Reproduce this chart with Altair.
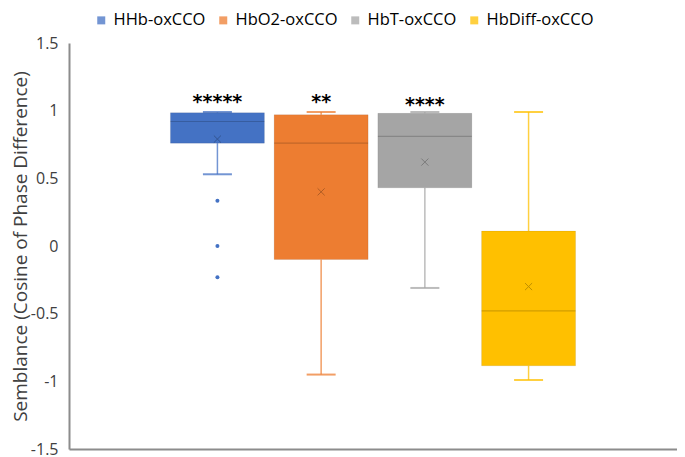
import altair as alt
import pandas as pd

series = ["HHb-oxCCO", "HbO2-oxCCO", "HbT-oxCCO", "HbDiff-oxCCO"]
colors = ["#4472C4", "#ED7D31", "#A5A5A5", "#FFC000"]
whisker_low = [0.53, -0.95, -0.31, -0.99]
q1 = [0.76, -0.10, 0.43, -0.885]
median = [0.92, 0.76, 0.81, -0.48]
q3 = [0.985, 0.97, 0.98, 0.11]
whisker_high = [0.99, 0.99, 0.99, 0.99]
mean = [0.79, 0.40, 0.62, -0.30]

outlier_series = ["HHb-oxCCO", "HHb-oxCCO", "HHb-oxCCO"]
outlier_values = [0.335, 0.0, -0.23]

stars = ["*****", "**", "****"]
star_series = ["HHb-oxCCO", "HbO2-oxCCO", "HbT-oxCCO"]
star_y = [1.09, 1.09, 1.07]

y_ticks = [-1.5, -1.0, -0.5, 0.0, 0.5, 1.0, 1.5]

df = pd.DataFrame({
    "series": series, "lo": whisker_low, "q1": q1, "med": median,
    "q3": q3, "hi": whisker_high, "mean": mean,
})
df_out = pd.DataFrame({"series": outlier_series, "v": outlier_values})
df_star = pd.DataFrame({"series": star_series, "s": stars, "y": star_y})

FONT = "Open Sans"

xenc = alt.X(
    "series:N",
    sort=series,
    scale=alt.Scale(domain=series, paddingInner=0.094, paddingOuter=0.978),
    axis=alt.Axis(labels=False, ticks=False, title=None, domain=True,
                  domainColor="#8c8c8c", domainWidth=2),
)
yscale = alt.Scale(domain=[-1.5, 1.5], nice=False)
yaxis = alt.Axis(
    values=y_ticks, grid=False, ticks=False,
    labelExpr="datum.value + ''",
    labelFontSize=16, labelFont=FONT, labelColor="#404040", labelPadding=11,
    domainColor="#8c8c8c", domainWidth=2,
    title="Semblance (Cosine of Phase Difference)",
    titleFontSize=19, titleFont=FONT, titleFontWeight="normal",
    titleColor="#404040", titlePadding=0,
)
legend = alt.Legend(
    title=None, orient="none", direction="horizontal",
    legendX=24, legendY=-31, symbolType="square", symbolSize=64,
    symbolStrokeWidth=0, labelFontSize=16.5, labelFont=FONT,
    labelColor="#000000", labelOffset=4, columnPadding=9,
)
cenc = alt.Color("series:N", sort=series,
                 scale=alt.Scale(domain=series, range=colors), legend=legend)

base = alt.Chart(df)

whisk_lo = base.mark_rule(strokeWidth=1.5, opacity=0.75).encode(
    x=xenc, y=alt.Y("lo:Q", scale=yscale, axis=yaxis), y2="q1:Q", color=cenc)
whisk_hi = base.mark_rule(strokeWidth=1.5, opacity=0.75).encode(
    x=xenc, y=alt.Y("q3:Q", scale=yscale), y2="hi:Q", color=cenc)
cap_lo = base.mark_tick(size=29, thickness=2, opacity=0.75).encode(
    x=xenc, y=alt.Y("lo:Q", scale=yscale), color=cenc)
cap_hi = base.mark_tick(size=29, thickness=2, opacity=0.75).encode(
    x=xenc, y=alt.Y("hi:Q", scale=yscale), color=cenc)
box = base.mark_bar(opacity=1).encode(
    x=xenc, y=alt.Y("q1:Q", scale=yscale), y2="q3:Q", color=cenc)
box_edge = base.mark_bar(filled=False, stroke="black", strokeWidth=1,
                         strokeOpacity=0.08, fillOpacity=0).encode(
    x=xenc, y=alt.Y("q1:Q", scale=yscale), y2="q3:Q")
med = base.mark_tick(size=94, thickness=1.2, color="black", opacity=0.18).encode(
    x=xenc, y=alt.Y("med:Q", scale=yscale))
mean_pt = base.mark_point(
    shape="M-1,-1L1,1M-1,1L1,-1", size=50, strokeWidth=1,
    color="black", opacity=0.25, filled=False).encode(
    x=xenc, y=alt.Y("mean:Q", scale=yscale))
outl = alt.Chart(df_out).mark_circle(size=16, opacity=1).encode(
    x=xenc, y=alt.Y("v:Q", scale=yscale), color=cenc)
star_txt = alt.Chart(df_star).mark_text(
    fontSize=19, font="DejaVu Sans", fontWeight="bold", baseline="middle",
    color="black", dy=4).encode(
    x=xenc, y=alt.Y("y:Q", scale=yscale), text="s:N")

chart = alt.layer(
    whisk_lo, whisk_hi, cap_lo, cap_hi, box, box_edge, med, mean_pt, outl, star_txt
).properties(
    width=608, height=406,
    padding={"left": 61, "top": 35, "right": 0, "bottom": 8},
    autosize=alt.AutoSizeParams(type="none"),
).configure_view(stroke=None)

chart.save("out.html", embed_options={"renderer": "svg", "actions": False})
